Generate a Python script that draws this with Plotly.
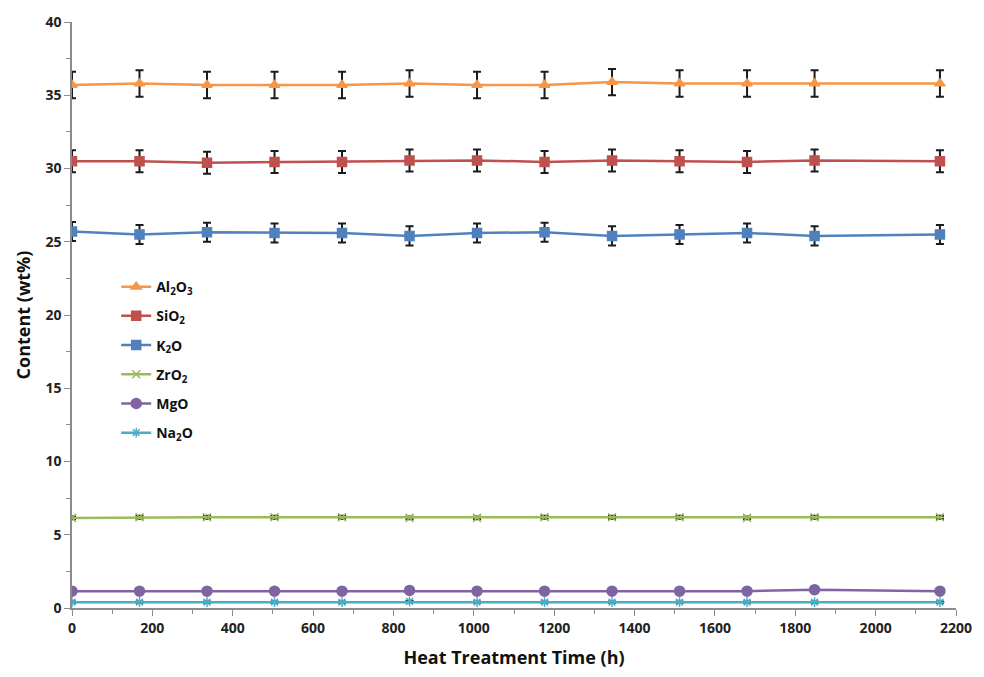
import plotly.graph_objects as go

# Heat treatment time (h), sampled weekly
hours = [0, 168, 336, 504, 672, 840, 1008, 1176, 1344, 1512, 1680, 1848, 2160]

# Oxide content (wt%)
al2o3 = [35.7, 35.8, 35.7, 35.7, 35.7, 35.8, 35.7, 35.7, 35.9, 35.8, 35.8, 35.8, 35.8]
sio2 = [30.5, 30.5, 30.4, 30.45, 30.45, 30.55, 30.55, 30.45, 30.55, 30.5, 30.45, 30.55, 30.5]
k2o = [25.7, 25.5, 25.65, 25.6, 25.6, 25.4, 25.6, 25.65, 25.4, 25.5, 25.6, 25.4, 25.5]
zro2 = [6.15, 6.2, 6.2, 6.2, 6.2, 6.15, 6.15, 6.2, 6.2, 6.2, 6.15, 6.2, 6.2]
mgo = [1.15, 1.15, 1.15, 1.15, 1.15, 1.2, 1.15, 1.15, 1.15, 1.15, 1.15, 1.25, 1.15]
na2o = [0.4, 0.4, 0.4, 0.4, 0.4, 0.45, 0.4, 0.4, 0.4, 0.4, 0.4, 0.4, 0.4]

# Standard deviations (wt%)
al2o3_err = [0.9] * 13
sio2_err = [0.75] * 13
k2o_err = [0.65] * 13
zro2_err = [0.1] * 13
mgo_err = [0.05] * 13
na2o_err = [0.05] * 13

series = [
    ("Al<sub>2</sub>O<sub>3</sub>", al2o3, al2o3_err, "#F79646", "triangle-up", 9),
    ("SiO<sub>2</sub>", sio2, sio2_err, "#C0504D", "square", 9),
    ("K<sub>2</sub>O", k2o, k2o_err, "#4F81BD", "square", 9),
    ("ZrO<sub>2</sub>", zro2, zro2_err, "#9BBB59", "x-thin-open", 8),
    ("MgO", mgo, mgo_err, "#8064A2", "circle", 10),
    ("Na<sub>2</sub>O", na2o, na2o_err, "#4BACC6", "asterisk-open", 8),
]

fig = go.Figure()
for i, (name, vals, err, color, symbol, size) in enumerate(series):
    fig.add_trace(go.Scatter(
        x=hours, y=vals, name=name, mode="lines+markers",
        legendgroup=f"g{i}",
        line=dict(color=color, width=2.5),
        marker=dict(symbol=symbol, size=size, color=color,
                    line=dict(color=color, width=1.5)),
        error_y=dict(type="data", array=err, visible=True,
                     color="#1a1a1a", thickness=2, width=4),
    ))

font_family = "Open Sans, Liberation Sans, Arial, sans-serif"

fig.update_layout(
    width=984, height=677,
    margin=dict(l=72, r=22, t=15, b=67),
    paper_bgcolor="white", plot_bgcolor="white",
    font=dict(family=font_family, color="#222222"),
    showlegend=True,
    legend=dict(
        x=0.05, y=0.575, xanchor="left", yanchor="top",
        bgcolor="rgba(0,0,0,0)", tracegroupgap=8,
        font=dict(size=14, color="#111111", family=font_family, weight="bold"),
    ),
    xaxis=dict(
        range=[0, 2200], tick0=0, dtick=200,
        showgrid=False, zeroline=False,
        showline=True, linecolor="#8c8c8c", linewidth=1.5,
        ticks="outside", ticklen=6, tickcolor="#8c8c8c",
        minor=dict(dtick=100, ticks="outside", ticklen=4, tickcolor="#8c8c8c"),
        tickfont=dict(size=14, weight="bold", color="#222222"),
        title=dict(text="Heat Treatment Time (h)", standoff=16,
                   font=dict(size=18, weight="bold", color="#111111")),
    ),
    yaxis=dict(
        range=[0, 40], tick0=0, dtick=5,
        showgrid=False, zeroline=False,
        showline=True, linecolor="#8c8c8c", linewidth=1.5,
        ticks="outside", ticklen=6, tickcolor="#8c8c8c",
        minor=dict(dtick=2.5, ticks="outside", ticklen=4, tickcolor="#8c8c8c"),
        tickfont=dict(size=14, weight="bold", color="#222222"),
        title=dict(text="Content (wt%)", standoff=10,
                   font=dict(size=18, weight="bold", color="#111111")),
    ),
)

fig.write_html("out.html")
